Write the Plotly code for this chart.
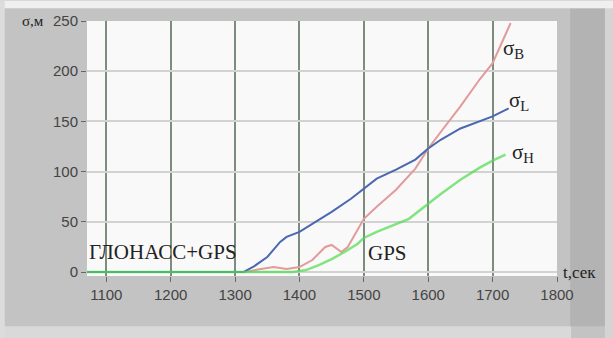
import plotly.graph_objects as go

# Time axis (seconds) and RMS errors (metres) for each coordinate
t_B = [1070, 1315, 1340, 1360, 1380, 1400, 1420, 1440, 1450, 1465, 1475, 1490, 1500,
       1520, 1550, 1580, 1600, 1620, 1650, 1680, 1700, 1728]
sigma_B = [0, 0, 3, 5, 3, 5, 12, 25, 27, 20, 25, 42, 53,
           65, 82, 103, 123, 140, 165, 192, 208, 248]

t_L = [1070, 1313, 1330, 1350, 1370, 1380, 1400, 1420, 1450, 1480, 1500, 1520,
       1550, 1580, 1600, 1620, 1650, 1680, 1700, 1725]
sigma_L = [0, 0, 6, 15, 30, 35, 40, 48, 60, 73, 83, 93,
           102, 112, 123, 132, 143, 150, 155, 163]

t_H = [1070, 1390, 1410, 1430, 1450, 1470, 1490, 1500, 1520, 1550, 1570, 1600,
       1620, 1650, 1680, 1700, 1720]
sigma_H = [0, 0, 2, 7, 13, 20, 28, 34, 40, 48, 53, 68,
           78, 92, 104, 111, 117]

x_ticks = [1100, 1200, 1300, 1400, 1500, 1600, 1700, 1800]
y_ticks = [0, 50, 100, 150, 200, 250]

fig = go.Figure()
fig.add_trace(go.Scatter(x=t_B, y=sigma_B, mode="lines",
                         line=dict(color="#e39a9a", width=2), name="σB"))
fig.add_trace(go.Scatter(x=t_L, y=sigma_L, mode="lines",
                         line=dict(color="#4a68b0", width=2), name="σL"))
fig.add_trace(go.Scatter(x=t_H, y=sigma_H, mode="lines", opacity=0.7,
                         line=dict(color="#4fdc4f", width=2.5), name="σH"))

serif = "Liberation Serif, Times New Roman, serif"
narrow = "Liberation Sans Narrow, Arial Narrow, Liberation Sans, sans-serif"
ink = "#222"

annotations = [
    dict(x=-0.088, y=1.0, xref="paper", yref="paper", text="σ,м",
         showarrow=False, font=dict(family=serif, size=15, color=ink),
         xanchor="right", yanchor="middle"),
    dict(x=1188, y=20, text="ГЛОНАСС+GPS", showarrow=False,
         font=dict(family=serif, size=21, color=ink),
         xanchor="center", yanchor="middle"),
    dict(x=1537, y=19, text="GPS", showarrow=False,
         font=dict(family=serif, size=21, color=ink),
         xanchor="center", yanchor="middle"),
    dict(x=1.008, y=0.015, xref="paper", yref="paper", text="t,сек",
         showarrow=False, font=dict(family=serif, size=17, color=ink),
         xanchor="left", yanchor="middle"),
    dict(x=1733, y=222, text="σ<sub>B</sub>", showarrow=False,
         font=dict(family=serif, size=21, color=ink),
         xanchor="center", yanchor="middle"),
    dict(x=1741, y=170, text="σ<sub>L</sub>", showarrow=False,
         font=dict(family=serif, size=21, color=ink),
         xanchor="center", yanchor="middle"),
    dict(x=1747, y=119, text="σ<sub>H</sub>", showarrow=False,
         font=dict(family=serif, size=21, color=ink),
         xanchor="center", yanchor="middle"),
]

# Window frame around the grey panel
shapes = [
    dict(type="rect", xref="paper", yref="paper", x0=-0.2, x1=1.03,
         y0=-0.197, y1=-0.26, fillcolor="#d9d9d9", line_width=0, layer="below"),
    dict(type="rect", xref="paper", yref="paper", x0=1.028, x1=1.102,
         y0=-0.197, y1=1.05, fillcolor="#b3b3b3", line_width=0, layer="below"),
    dict(type="rect", xref="paper", yref="paper", x0=1.102, x1=1.13,
         y0=-0.26, y1=1.08, fillcolor="#d4d4d4", line_width=0, layer="below"),
    dict(type="rect", xref="paper", yref="paper", x0=-0.2, x1=1.13,
         y0=1.05, y1=1.08, fillcolor="#efefef", line_width=0, layer="below"),
    dict(type="rect", xref="paper", yref="paper", x0=-0.2, x1=-0.175,
         y0=-0.26, y1=1.08, fillcolor="#dcdcdc", line_width=0, layer="below"),
]

fig.update_layout(
    width=613, height=338,
    margin=dict(l=87, r=56, t=17, b=62),
    paper_bgcolor="#c3c3c3",
    plot_bgcolor="#f9f9f9",
    showlegend=False,
    annotations=annotations,
    shapes=shapes,
)
fig.update_xaxes(range=[1070, 1800], tickvals=x_ticks, ticks="outside",
                 ticklen=5, tickcolor="#666", showgrid=True,
                 gridcolor="#7d8d7d", gridwidth=2, zeroline=False,
                 tickfont=dict(family=narrow, size=15, color="#444"),
                 showline=False)
fig.update_yaxes(range=[-3.9, 250], tickvals=y_ticks, ticks="outside",
                 ticklen=5, tickcolor="#666", showgrid=True,
                 gridcolor="#d2d2d2", gridwidth=2, zeroline=False,
                 tickfont=dict(family=narrow, size=15, color="#444"),
                 showline=False)

fig.write_html("out.html")
